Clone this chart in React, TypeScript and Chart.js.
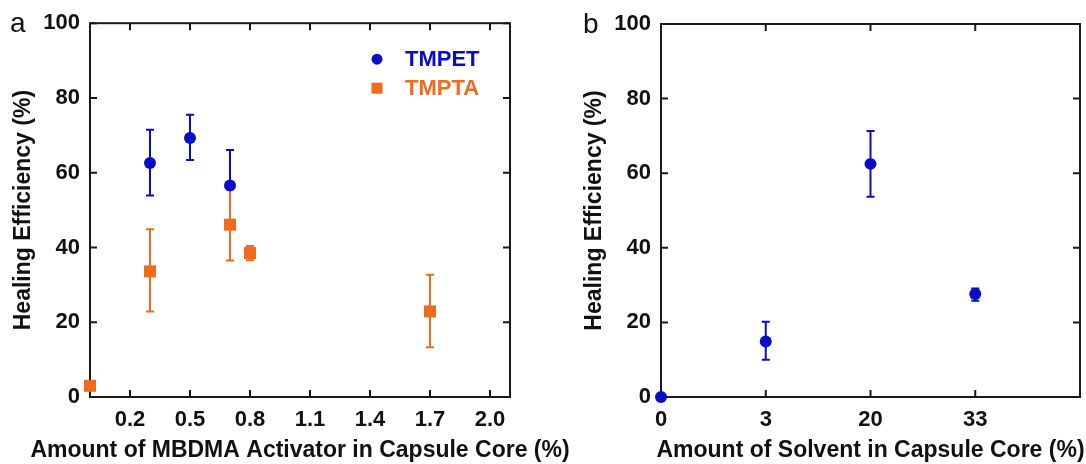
import React, { useEffect, useRef } from 'react';
import { Chart, registerables } from 'chart.js';

Chart.register(...registerables);

const FONT = "'Liberation Sans', Arial, Helvetica, sans-serif";
const BLUE = '#0b0bcc';
const ORANGE = '#ef6c1f';
const INK = '#111111';

// ---- Panel a: MBDMA activator ----
const activatorTicks = [0.2, 0.5, 0.8, 1.1, 1.4, 1.7, 2.0];
const tmpetX = [0.3, 0.5, 0.7];
const tmpetY = [62.6, 69.3, 56.6];
const tmpetLow = [53.9, 63.4, 47.1];
const tmpetHigh = [71.5, 75.5, 66.1];
const tmptaX = [0, 0.3, 0.7, 0.8, 1.7];
const tmptaY = [3.0, 33.6, 46.1, 38.5, 22.9];
const tmptaLow = [3.0, 22.9, 36.5, 36.6, 13.3];
const tmptaHigh = [3.0, 44.9, 55.5, 40.4, 32.7];

// ---- Panel b: solvent ----
const solventLabels = ['0', '3', '20', '33'];
const solventY = [0, 14.9, 62.5, 27.6];
const solventLow = [0, 10.0, 53.7, 25.8];
const solventHigh = [0, 20.2, 71.3, 29.1];

const yTickValues = [0, 20, 40, 60, 80, 100];
const seriesNames = ['TMPET', 'TMPTA'];

type ErrSet = { low: number[]; high: number[]; color: string };

function makePlugin(cfg: {
  letter: string;
  letterX: number;
  letterY: number;
  xTitle: string;
  xTickValues: number[];
  errors: ErrSet[];
  legend?: boolean;
}) {
  return {
    id: 'frameAndErrors',
    beforeDatasetsDraw(chart: any) {
      const ctx = chart.ctx;
      const a = chart.chartArea;
      const xs = chart.scales.x;
      const ys = chart.scales.y;
      ctx.save();
      // frame
      ctx.strokeStyle = '#1a1a1a';
      ctx.lineWidth = 2;
      ctx.strokeRect(a.left, a.top, a.right - a.left, a.bottom - a.top);
      // inward ticks
      const tl = 7;
      ctx.beginPath();
      yTickValues.forEach((v) => {
        const py = ys.getPixelForValue(v);
        ctx.moveTo(a.left, py);
        ctx.lineTo(a.left + tl, py);
        ctx.moveTo(a.right, py);
        ctx.lineTo(a.right - tl, py);
      });
      cfg.xTickValues.forEach((v) => {
        const px = xs.getPixelForValue(v);
        ctx.moveTo(px, a.bottom);
        ctx.lineTo(px, a.bottom - tl);
        ctx.moveTo(px, a.top);
        ctx.lineTo(px, a.top + tl);
      });
      ctx.stroke();
      // error bars
      cfg.errors.forEach((e, i) => {
        const meta = chart.getDatasetMeta(i);
        ctx.strokeStyle = e.color;
        ctx.lineWidth = 2;
        meta.data.forEach((pt: any, j: number) => {
          if (e.high[j] === e.low[j]) return;
          const yl = ys.getPixelForValue(e.low[j]);
          const yh = ys.getPixelForValue(e.high[j]);
          const x = pt.x;
          ctx.beginPath();
          ctx.moveTo(x, yl);
          ctx.lineTo(x, yh);
          ctx.moveTo(x - 4, yl);
          ctx.lineTo(x + 4, yl);
          ctx.moveTo(x - 4, yh);
          ctx.lineTo(x + 4, yh);
          ctx.stroke();
        });
      });
      ctx.restore();
    },
    afterDraw(chart: any) {
      const ctx = chart.ctx;
      const a = chart.chartArea;
      ctx.save();
      ctx.fillStyle = INK;
      ctx.font = `28px ${FONT}`;
      ctx.textAlign = 'left';
      ctx.textBaseline = 'alphabetic';
      ctx.fillText(cfg.letter, cfg.letterX, cfg.letterY);
      // x axis title (drawn without width compression)
      ctx.font = `bold 23px ${FONT}`;
      ctx.textAlign = 'center';
      ctx.textBaseline = 'middle';
      ctx.fillText(cfg.xTitle, (a.left + a.right) / 2, 451);
      if (cfg.legend) {
        const mx = a.right - 133;
        const tx = a.right - 105;
        const y1 = a.top + 36;
        const y2 = a.top + 65;
        ctx.fillStyle = BLUE;
        ctx.beginPath();
        ctx.arc(mx, y1, 5.5, 0, Math.PI * 2);
        ctx.fill();
        ctx.fillStyle = ORANGE;
        ctx.fillRect(mx - 5.5, y2 - 5.5, 11, 11);
        ctx.font = `bold 22px ${FONT}`;
        ctx.textAlign = 'left';
        ctx.textBaseline = 'middle';
        ctx.fillStyle = BLUE;
        ctx.fillText(seriesNames[0], tx, y1 + 1);
        ctx.fillStyle = ORANGE;
        ctx.fillText(seriesNames[1], tx, y2 + 1);
      }
      ctx.restore();
    },
  };
}

function baseScales(xOpts: any) {
  return {
    x: {
      type: 'linear',
      ...xOpts,
      afterFit: (s: any) => {
        s.height = 67;
      },
      grid: { display: false, drawTicks: false },
      border: { display: false },
      ticks: {
        ...(xOpts.ticks || {}),
        padding: 10,
        autoSkip: false,
        maxRotation: 0,
        color: INK,
        font: { size: 22, weight: 'bold', family: FONT },
      },
      title: { display: false },
    },
    y: {
      type: 'linear',
      min: 0,
      max: 100,
      afterBuildTicks: (s: any) => {
        s.ticks = yTickValues.map((v) => ({ value: v }));
      },
      afterFit: (s: any) => {
        s.width = 90;
      },
      grid: { display: false, drawTicks: false },
      border: { display: false },
      ticks: {
        padding: 10,
        color: INK,
        font: { size: 22, weight: 'bold', family: FONT },
      },
      title: {
        display: true,
        text: 'Healing Efficiency (%)',
        color: INK,
        font: { size: 23, weight: 'bold', family: FONT },
        padding: { top: 10, bottom: 0 },
      },
    },
  };
}

export default function App() {
  const refA = useRef<HTMLCanvasElement | null>(null);
  const refB = useRef<HTMLCanvasElement | null>(null);

  useEffect(() => {
    Chart.defaults.font.family = FONT;
    const common = {
      responsive: false,
      animation: false,
      plugins: { legend: { display: false }, tooltip: { enabled: false } },
    };

    const chartA = new Chart(refA.current as HTMLCanvasElement, {
      type: 'scatter',
      data: {
        datasets: [
          {
            label: seriesNames[0],
            data: tmpetX.map((x, i) => ({ x, y: tmpetY[i] })),
            backgroundColor: BLUE,
            borderColor: BLUE,
            pointStyle: 'circle',
            pointRadius: 6,
            pointBorderWidth: 0,
            clip: false,
            order: 2,
          },
          {
            label: seriesNames[1],
            data: tmptaX.map((x, i) => ({ x, y: tmptaY[i] })),
            backgroundColor: ORANGE,
            borderColor: ORANGE,
            pointStyle: 'rect',
            pointRadius: 8.5,
            pointBorderWidth: 0,
            clip: false,
            order: 1,
          },
        ],
      },
      options: {
        ...common,
        layout: { padding: { left: 0, right: 70, top: 23, bottom: 0 } },
        scales: baseScales({
          min: 0,
          max: 2.1,
          afterBuildTicks: (s: any) => {
            s.ticks = activatorTicks.map((v) => ({ value: v }));
          },
          ticks: { callback: (v: any) => Number(v).toFixed(1) },
        }),
      } as any,
      plugins: [
        makePlugin({
          letter: 'a',
          letterX: 10,
          letterY: 32,
          xTitle: 'Amount of MBDMA Activator in Capsule Core (%)',
          xTickValues: activatorTicks,
          legend: true,
          errors: [
            { low: tmpetLow, high: tmpetHigh, color: BLUE },
            { low: tmptaLow, high: tmptaHigh, color: ORANGE },
          ],
        }),
      ],
    } as any);

    const chartB = new Chart(refB.current as HTMLCanvasElement, {
      type: 'scatter',
      data: {
        datasets: [
          {
            label: seriesNames[0],
            data: solventLabels.map((_, i) => ({ x: i, y: solventY[i] })),
            backgroundColor: BLUE,
            borderColor: BLUE,
            pointStyle: 'circle',
            pointRadius: 6,
            pointBorderWidth: 0,
            clip: false,
          },
        ],
      },
      options: {
        ...common,
        layout: { padding: { left: 28, right: 6, top: 24, bottom: 0 } },
        scales: baseScales({
          min: 0,
          max: solventLabels.length,
          afterBuildTicks: (s: any) => {
            s.ticks = solventLabels.map((_, i) => ({ value: i }));
          },
          ticks: { callback: (v: any) => solventLabels[Number(v)] ?? '' },
        }),
      } as any,
      plugins: [
        makePlugin({
          letter: 'b',
          letterX: 40,
          letterY: 33,
          xTitle: 'Amount of Solvent in Capsule Core (%)',
          xTickValues: solventLabels.map((_, i) => i),
          errors: [{ low: solventLow, high: solventHigh, color: BLUE }],
        }),
      ],
    } as any);

    return () => {
      chartA.destroy();
      chartB.destroy();
    };
  }, []);

  return (
    <div style={{ position: 'absolute', left: 0, top: 0, width: 1086, height: 464, background: '#fff' }}>
      <canvas ref={refA} width={580} height={464} style={{ position: 'absolute', left: 0, top: 0, width: 580, height: 464 }} />
      <canvas ref={refB} width={543} height={464} style={{ position: 'absolute', left: 543, top: 0, width: 543, height: 464 }} />
    </div>
  );
}
